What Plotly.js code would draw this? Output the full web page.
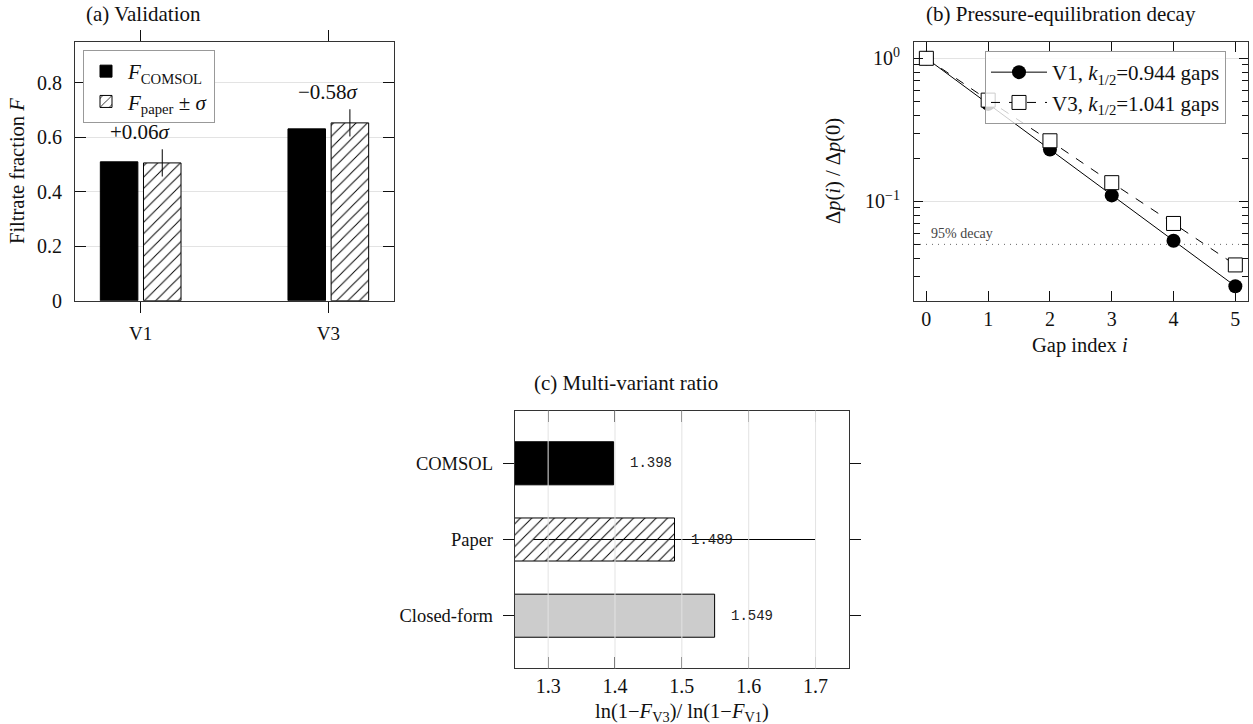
<!DOCTYPE html>
<html>
<head>
<meta charset="utf-8">
<script src="https://cdn.plot.ly/plotly-3.0.1.min.js"></script>
<style>html,body{margin:0;padding:0;background:#fff;}#chart{width:1253px;height:724px;}</style>
</head>
<body>
<div id="chart"></div>
<script>
// ---- data: (a) validation ----
const catsA = ['V1', 'V3'];
const comsolF = [0.510, 0.631];
const paperF = [0.506, 0.653];
const paperSigma = [0.050, 0.050];
const devLabels = ['+0.06<i>σ</i>', '−0.58<i>σ</i>'];
const tickValsA = [0, 0.2, 0.4, 0.6, 0.8];

// ---- data: (b) decay ----
const gapIdx = [0, 1, 2, 3, 4, 5];
const decayV1 = [1.0, 0.48, 0.23, 0.11, 0.053, 0.0255];
const decayV3 = [1.0, 0.51, 0.265, 0.135, 0.070, 0.0359];
const threshold95 = 0.05;
const legendV1 = 'V1, <i>k</i><sub>1/2</sub>=0.944 gaps';
const legendV3 = 'V3, <i>k</i><sub>1/2</sub>=1.041 gaps';
const majorB = [1, 0.1];
const majorBText = ['10<sup>0</sup>', '10<sup>−1</sup>'];
const minorB = [0.03,0.04,0.05,0.06,0.07,0.08,0.09,0.2,0.3,0.4,0.5,0.6,0.7,0.8,0.9];

// ---- data: (c) ratio ----
const ratioCats = ['COMSOL', 'Paper', 'Closed-form'];
const ratioVals = [1.398, 1.489, 1.549];
const paperRatioErr = 0.211;
const tickValsC = [1.3, 1.4, 1.5, 1.6, 1.7];

const W = 1253, H = 724;
const px = x => x / W;
const py = y => 1 - y / H;
const SERIF = 'Liberation Serif, Times New Roman, serif';
const GRID = '#e3e3e3';
const INK = '#111';
const sf = size => ({family:SERIF, size, color:INK});

const traces = [
  // (a)
  {type:'bar', x:catsA, y:comsolF, xaxis:'x', yaxis:'y', width:0.2, offset:-0.215,
   name:'<i>F</i><sub>COMSOL</sub>', legend:'legend',
   marker:{color:'black', line:{color:'black', width:1}}},
  {type:'bar', x:catsA, y:paperF, xaxis:'x', yaxis:'y', width:0.2, offset:0.015,
   name:'<i>F</i><sub>paper</sub> ± <i>σ</i>', legend:'legend',
   marker:{color:'white', line:{color:'black', width:1},
           pattern:{shape:'/', fgcolor:'black', bgcolor:'white', size:8, solidity:0.12}},
   error_y:{type:'data', array:paperSigma, visible:true, color:'black', thickness:1, width:0}},
  // (b)
  {type:'scatter', mode:'lines+markers', x:gapIdx, y:decayV1, xaxis:'x2', yaxis:'y2',
   name:legendV1, legend:'legend2',
   line:{color:'black', width:1}, marker:{symbol:'circle', size:14, color:'black'}},
  {type:'scatter', mode:'lines+markers', x:gapIdx, y:decayV3, xaxis:'x2', yaxis:'y2',
   name:legendV3, legend:'legend2',
   line:{color:'black', width:1, dash:'dash'},
   marker:{symbol:'square', size:14, color:'white', line:{color:'black', width:1}}},
  // (c)
  {type:'bar', orientation:'h', y:[ratioCats[0]], x:[ratioVals[0]], xaxis:'x3', yaxis:'y3',
   width:0.565, showlegend:false, marker:{color:'black', line:{color:'black', width:1}}},
  {type:'bar', orientation:'h', y:[ratioCats[1]], x:[ratioVals[1]], xaxis:'x3', yaxis:'y3',
   width:0.565, showlegend:false,
   marker:{color:'white', line:{color:'black', width:1},
           pattern:{shape:'/', fgcolor:'black', bgcolor:'white', size:8, solidity:0.12}},
   error_x:{type:'data', array:[paperRatioErr], visible:true, color:'black', thickness:1, width:0}},
  {type:'bar', orientation:'h', y:[ratioCats[2]], x:[ratioVals[2]], xaxis:'x3', yaxis:'y3',
   width:0.565, showlegend:false, marker:{color:'#cccccc', line:{color:'black', width:1}}}
];

const axisBase = {showline:true, linecolor:'#333', linewidth:1, tickcolor:INK, tickwidth:1,
  zeroline:false, tickfont:sf(20), fixedrange:true};

const annotations = [];
function note(text, x, y, size, opts) {
  annotations.push(Object.assign({text, x:px(x), y:py(y), xref:'paper', yref:'paper',
    xanchor:'center', yanchor:'middle', showarrow:false, font:sf(size)}, opts || {}));
}
note('(a) Validation', 143, 14, 21);
note('(b) Pressure-equilibration decay', 1061, 14, 21);
note('(c) Multi-variant ratio', 626, 383, 21);
note('Filtrate fraction <i>F</i>', 17, 171, 20.5, {textangle:-90});
note('Δ<i>p</i>(<i>i</i>) / Δ<i>p</i>(0)', 834, 171, 20.5, {textangle:-90});
note('Gap index <i>i</i>', 1080, 345, 20.5);
note('ln(1−<i>F</i><sub>V3</sub>)/ ln(1−<i>F</i><sub>V1</sub>)', 682, 712, 20.5);

// deviation labels above paper error bars (a)
catsA.forEach((c, i) => {
  annotations.push({text:devLabels[i], x:c, y:paperF[i] + paperSigma[i], xref:'x', yref:'y',
    xanchor:'center', yanchor:'bottom', yshift:3, showarrow:false, font:sf(21)});
});
// 95% label (b)
annotations.push({text:'95% decay', x:0.045, y:Math.log10(threshold95), xref:'x2 domain', yref:'y2',
  xanchor:'left', yanchor:'bottom', yshift:1, showarrow:false,
  font:{family:SERIF, size:14, color:'#444'}});
// value labels (c)
ratioCats.forEach((c, i) => {
  annotations.push({text:ratioVals[i].toFixed(3), x:ratioVals[i], y:c, xref:'x3', yref:'y3',
    xanchor:'left', yanchor:'middle', xshift:14, showarrow:false,
    font:{family:'Liberation Mono, Courier New, monospace', size:14, color:'#222'}});
});

const shapes = [
  {type:'line', xref:'x2 domain', yref:'y2', x0:0, x1:1, y0:threshold95, y1:threshold95,
   line:{color:'#666', width:1, dash:'1px,5px'}, layer:'below'}
];
// grid lines of (c) drawn on top of bars
tickValsC.forEach(v => shapes.push({type:'line', xref:'x3', yref:'y3 domain', x0:v, x1:v, y0:0, y1:1,
  line:{color:GRID, width:1}, layer:'above'}));

const layout = {
  width:W, height:H, margin:{l:0, r:0, t:0, b:0},
  paper_bgcolor:'white', plot_bgcolor:'white', barmode:'overlay',
  font:sf(18),
  xaxis: Object.assign({}, axisBase, {domain:[px(75), px(394)], anchor:'y', type:'category',
    range:[-0.35, 1.35], ticks:'outside', ticklen:11, mirror:'ticks', showgrid:false,
    tickfont:sf(19), ticklabelstandoff:4}),
  yaxis: Object.assign({}, axisBase, {domain:[py(300.7), py(42)], anchor:'x', range:[0, 0.95],
    tickmode:'array', tickvals:tickValsA, ticktext:tickValsA.map(v => v === 0 ? '0' : v.toFixed(1)),
    ticks:'inside', ticklen:11, mirror:'ticks', showgrid:true, gridcolor:GRID, ticklabelstandoff:8}),
  xaxis2: Object.assign({}, axisBase, {domain:[px(914), px(1247.7)], anchor:'y2', range:[-0.2, 5.2],
    tickmode:'array', tickvals:gapIdx, ticks:'inside', ticklen:10, mirror:'ticks', showgrid:false,
    ticklabelstandoff:0}),
  yaxis2: Object.assign({}, axisBase, {domain:[py(300.7), py(42)], anchor:'x2', type:'log',
    range:[-1.695, 0.114], tickmode:'array', tickvals:majorB, ticktext:majorBText,
    ticks:'inside', ticklen:9, mirror:'ticks', showgrid:true, gridcolor:GRID, ticklabelstandoff:9,
    minor:{tickmode:'array', tickvals:minorB, ticks:'inside', ticklen:6, tickcolor:INK, showgrid:false}}),
  xaxis3: Object.assign({}, axisBase, {domain:[px(514.7), px(849)], anchor:'y3', range:[1.25, 1.75],
    tickmode:'array', tickvals:tickValsC, ticktext:tickValsC.map(v => v.toFixed(1)),
    ticks:'inside', ticklen:11, mirror:'ticks', showgrid:false, ticklabelstandoff:0}),
  yaxis3: Object.assign({}, axisBase, {domain:[py(668.3), py(410.7)], anchor:'x3', type:'category',
    categoryorder:'array', categoryarray:ratioCats, range:[2.69, -0.69],
    ticks:'outside', ticklen:11, mirror:'ticks', showgrid:false, tickfont:sf(18.5), ticklabelstandoff:6}),
  legend:{x:px(83), y:py(50), xanchor:'left', yanchor:'top', xref:'paper', yref:'paper',
    bgcolor:'white', bordercolor:'#999', borderwidth:1, font:sf(21),
    itemwidth:34, tracegroupgap:2},
  legend2:{x:px(985), y:py(51), xanchor:'left', yanchor:'top', xref:'paper', yref:'paper',
    bgcolor:'rgba(255,255,255,0.8)', bordercolor:'#999', borderwidth:1,
    font:sf(21), itemwidth:56},
  annotations, shapes
};

Plotly.newPlot('chart', traces, layout, {displayModeBar:false, staticPlot:true});
</script>
</body>
</html>
